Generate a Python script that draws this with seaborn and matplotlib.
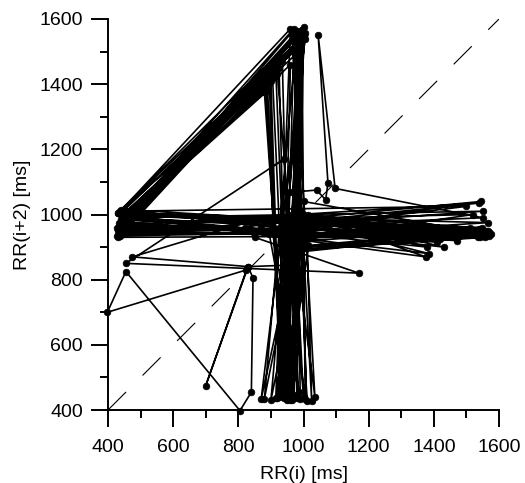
import numpy as np
import pandas as pd
import matplotlib
matplotlib.use("Agg")
import matplotlib.pyplot as plt
from matplotlib.ticker import MultipleLocator
import seaborn as sns

# RR interval series [ms]: runs of sinus beats, each ended by a premature
# beat (short RR) and a compensatory pause (long RR)
rr_ms = [
    985, 960, 995, 430, 1565,
    1005, 975, 940, 1000, 445, 1550,
    990, 1010, 970, 428, 1570,
    960, 945, 985, 452, 1530,
    1015, 950, 905, 435, 1420,
    975, 925, 1005, 440, 1558,
    960, 930, 890, 460, 1380,
    995, 900, 990, 975, 433, 1540,
    950, 955, 915, 447, 1440,
    1000, 945, 1000, 436, 1575,
    965, 940, 970, 442, 1500,
    1010, 1025, 965, 429, 1560,
    935, 950, 895, 985, 940, 455, 1170,
    850, 820, 930, 960, 980, 1000, 438, 1545,
    935, 1040, 950, 965, 830, 845, 840, 805, 455, 398, 825, 700, 830, 475, 840, 870, 980, 965, 1000, 431, 1548,
    1005, 960, 935, 444, 1470,
    970, 920, 985, 437, 1535,
    945, 930, 895, 468, 1405,
    990, 935, 1005, 995, 434, 1566,
    955, 950, 925, 450, 1450,
    1000, 960, 1040, 1068, 1075, 1045, 1097, 1550,
    1080, 990, 970, 990, 439, 1520,
    975, 1000, 920, 441, 1430,
    1015, 900, 1000, 430, 1552,
    930, 935, 885, 458, 1385,
    990, 880, 980, 435, 1562,
    960, 945, 970, 975, 446, 1490,
    1000, 950, 995, 432, 1543,
    950, 930, 900, 462, 1410,
    985, 915, 960, 438, 1570,
    1010, 935, 960, 443, 1460,
    970, 940, 990, 436, 1555,
    940, 945, 880, 452, 1375,
    995, 870, 1005, 433, 1538,
    965, 1035, 975, 440, 1510,
    985, 960, 1000, 975,
]

lag = 2
rr = np.asarray(rr_ms, dtype=float)
df = pd.DataFrame({"rr_i": rr[:-lag], "rr_i2": rr[lag:]})

axis_min, axis_max = 400, 1600

sns.set_style("ticks")
plt.rcParams["font.family"] = ["Liberation Sans", "DejaVu Sans"]

fig = plt.figure(figsize=(5.25, 4.83), dpi=100)
ax = fig.add_axes([0.2057, 0.1511, 0.7448, 0.8096])

# line of identity
ax.plot([axis_min, axis_max], [axis_min, axis_max], color="black",
        linewidth=0.8, dashes=(23, 21), zorder=1)

sns.lineplot(data=df, x="rr_i", y="rr_i2", sort=False, estimator=None,
             color="black", linewidth=1.2, marker="o", markersize=4.8,
             markeredgecolor="black", markeredgewidth=0.5, ax=ax,
             clip_on=False, zorder=3)

ax.set_xlim(axis_min, axis_max)
ax.set_ylim(axis_min, axis_max)
ax.xaxis.set_major_locator(MultipleLocator(200))
ax.xaxis.set_minor_locator(MultipleLocator(100))
ax.yaxis.set_major_locator(MultipleLocator(200))
ax.yaxis.set_minor_locator(MultipleLocator(100))

ax.tick_params(which="major", length=12.5, width=1.4, color="black",
               labelsize=14, labelcolor="black")
ax.tick_params(which="minor", length=6, width=1.4, color="black")
ax.tick_params(axis="x", which="major", pad=8.5)
ax.tick_params(axis="y", which="major", pad=5.5)

sns.despine(ax=ax)
for side in ("left", "bottom"):
    ax.spines[side].set_linewidth(1.4)
    ax.spines[side].set_color("black")

ax.set_xlabel("RR(i) [ms]", fontsize=14, labelpad=7, color="black")
ax.set_ylabel("RR(i+2) [ms]", fontsize=14, labelpad=6, color="black")

fig.savefig("out.png", dpi=100)
